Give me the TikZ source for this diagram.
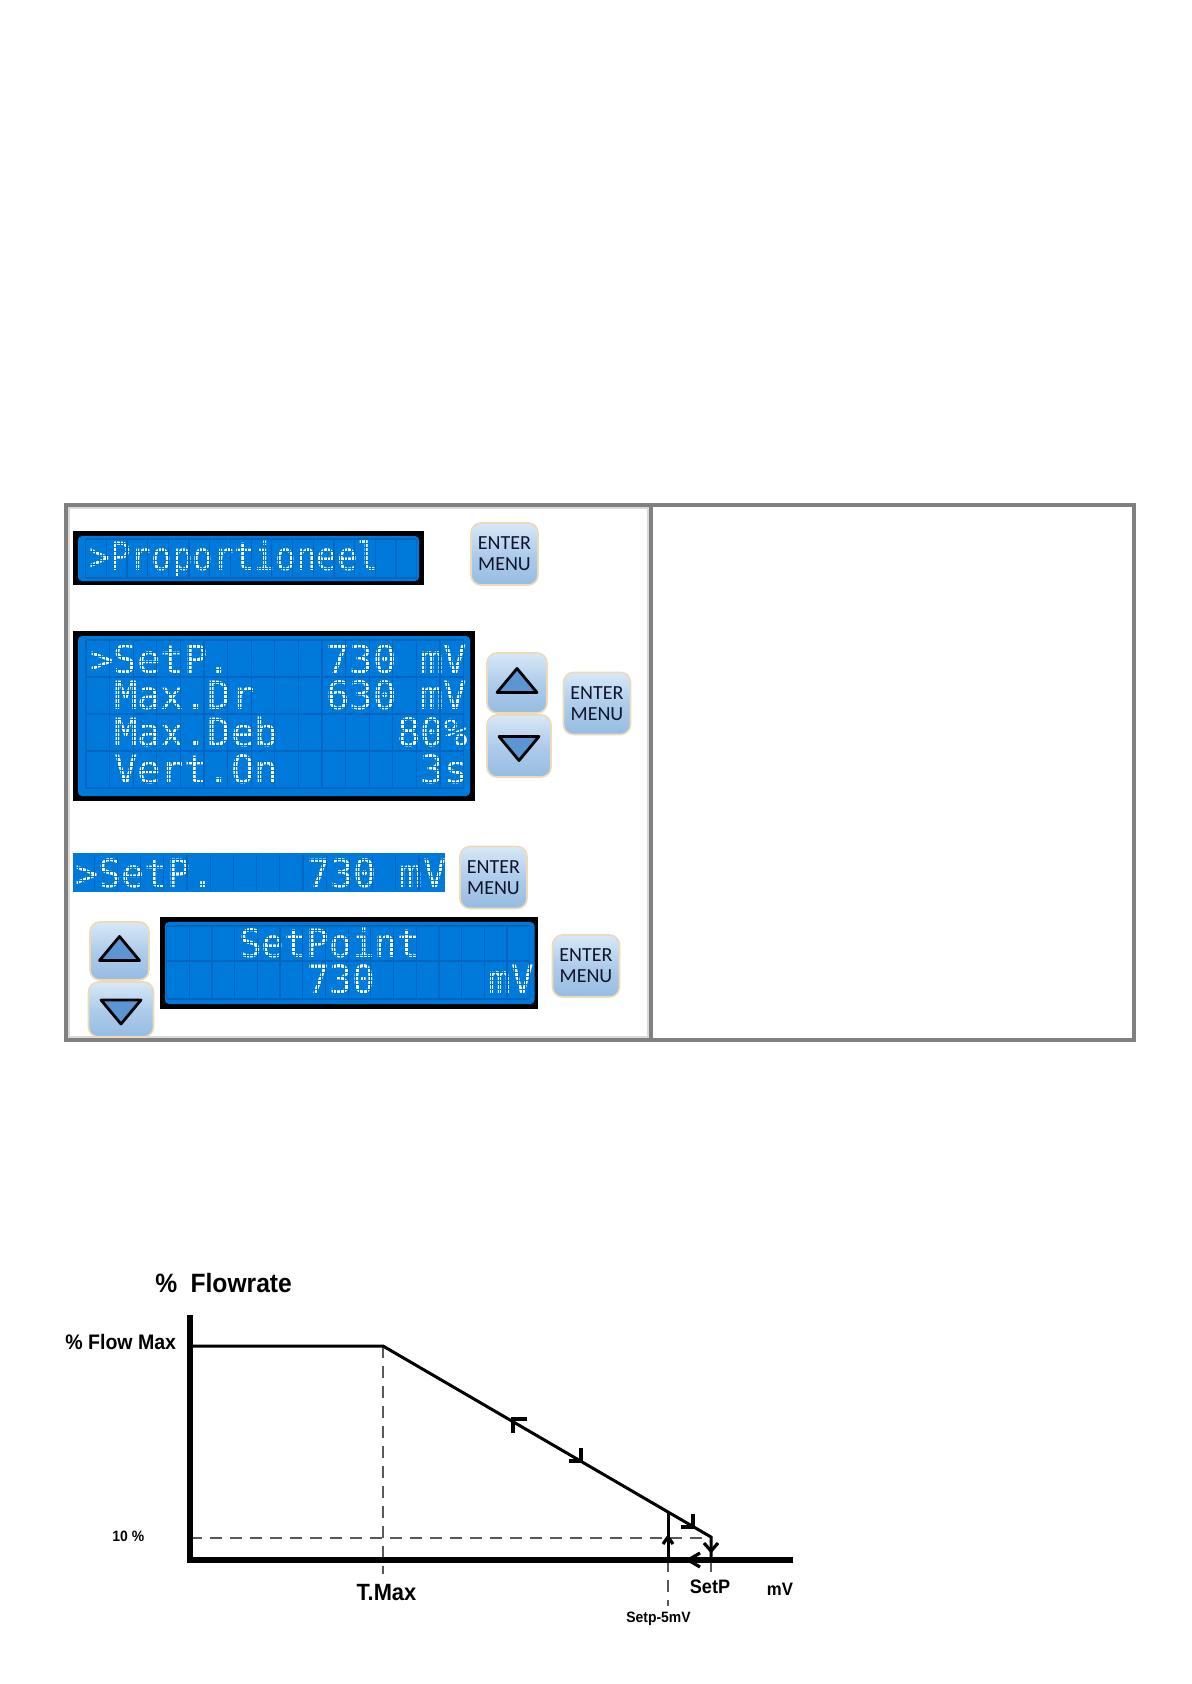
\documentclass[tikz,border=0pt]{standalone}
\usepackage{fontspec}
\setmainfont{Liberation Sans}
\newfontfamily\lcdfont{DejaVu Sans Mono}
\newfontfamily\lcdnarrow[FakeStretch=0.88]{DejaVu Sans Mono}
\newfontfamily\lcdmid[FakeStretch=0.965]{DejaVu Sans Mono}
\newfontfamily\lcdthree[FakeStretch=0.985]{DejaVu Sans Mono}
\newfontfamily\keyfont{Carlito}
\newfontfamily\chartfont[FakeStretch=0.93]{Liberation Sans}
\usetikzlibrary{positioning,calc}

\definecolor{lcdblue}{RGB}{0,122,218}
\definecolor{lcdgrid}{RGB}{0,102,194}
\definecolor{keytop}{RGB}{216,232,247}
\definecolor{keymid}{RGB}{174,204,235}
\definecolor{keybot}{RGB}{150,188,226}
\definecolor{keyedge}{RGB}{236,218,184}
\definecolor{keyink}{RGB}{15,20,45}
\definecolor{trifill}{RGB}{92,150,210}
\definecolor{framegray}{RGB}{128,128,128}

\begin{document}
\begin{tikzpicture}[x=0.5pt, y=-0.5pt,
    panelframe/.style={draw=framegray, line width=2pt},
    bezel/.style={fill=black},
    glass/.style={fill=lcdblue, rounded corners=2pt},
    lcdcell/.style={draw=lcdgrid, line width=0.6pt},
    dotmask/.style={draw=lcdblue, line width=0.45pt},
    lcdtxt/.style={anchor=base west, inner sep=0pt, text=white},
    keycap/.style={draw=keyedge, line width=0.8pt, rounded corners=5pt, top color=keytop, bottom color=keybot, middle color=keymid, inner sep=0pt},
    enterkey/.style={keycap, minimum width=33.5pt, minimum height=31pt, align=center, text=keyink, font=\keyfont\fontsize{10}{10.5}\selectfont},
    tri/.style={draw=black, fill=trifill, line width=1.4pt, line join=round},
    axisline/.style={line width=3pt},
    flowline/.style={line width=1.5pt},
    guide/.style={line width=0.6pt, gray!70!black, dash pattern=on 6pt off 4pt},
    barb/.style={line width=1.6pt},
    lbl/.style={font=\chartfont\bfseries\fontsize{#1}{#1}\selectfont, inner sep=0pt}]
  \useasboundingbox (0,0) rectangle (1191,1684);
  \fill[white] (0,0) rectangle (1191,1684);

  % menu panel
  \draw[panelframe] (66,505) rectangle (1134,1040);
  \draw[panelframe] (651,505) -- (651,1040);
  \draw[gray!30, line width=0.6pt] (69,508) rectangle (648,1037);

  % screen 1
  \fill[bezel] (73,531) rectangle (424,585);
  \fill[glass] (78,536) rectangle (419,581);
  \node[lcdtxt, font=\lcdnarrow\fontsize{19.5}{19.5}\selectfont] (s1) at (89,570) {>Proportioneel};
  \foreach \k in {0,...,96} \draw[dotmask] (85.5+3.45*\k,539) -- ++(0,39);
  \foreach \k in {0,...,9} \draw[dotmask] (85.5,539+4.2*\k) -- ++(331.2,0);
  \foreach \k in {0,...,16} \draw[lcdcell] (85.5+20.7*\k,539) -- (85.5+20.7*\k,578);
  \draw[lcdcell] (85.5,539) -- (416.7,539) (85.5,578) -- (416.7,578);
  \node[enterkey] (ok1) at (504.5,554) {ENTER\\MENU};

  % screen 2
  \fill[bezel] (73,631) rectangle (475,801);
  \fill[glass] (78,636) rectangle (470,796);
  \foreach \c/\r/\t [count=\i] in {0/0/>SetP., 10/0/730 mV, 1/1/Max.Dr, 10/1/630 mV,
      1/2/Max.Deb, 13/2/80\%, 1/3/Vert.On, 14/3/3s}
    \node[lcdtxt, font=\lcdfont\fontsize{19.5}{19.5}\selectfont] (m\i) at (90+23.6*\c,673+36.8*\r) {\t};
  \foreach \k in {0,...,96} \draw[dotmask] (86+3.9333*\k,640) -- ++(0,148);
  \foreach \k in {0,...,35} \draw[dotmask] (86,640+4.2*\k) -- ++(377.6,0);
  \foreach \k in {0,...,16} \draw[lcdcell] (86+23.6*\k,640) -- (86+23.6*\k,788);
  \foreach \r in {0,...,4} \draw[lcdcell] (86,640+37*\r) -- (463.6,640+37*\r);
  \node[keycap, minimum width=30pt, minimum height=30pt] (up1) at (517,683) {};
  \node[keycap, minimum width=32pt, minimum height=31pt] (dn1) at (519,746) {};
  \node[enterkey] (ok2) at (597,703.5) {ENTER\\MENU};

  % screen 3
  \fill[lcdblue] (73,853) rectangle (445,892);
  \node[lcdtxt, font=\lcdthree\fontsize{19.5}{19.5}\selectfont] (s3a) at (75,887) {>SetP.};
  \node[lcdtxt, font=\lcdthree\fontsize{19.5}{19.5}\selectfont] (s3b) at (75+23.2*10,887) {730 mV};
  \foreach \k in {1,...,96} \draw[dotmask] (71+3.8667*\k,855) -- ++(0,35);
  \foreach \k in {0,...,8} \draw[dotmask] (73,855+4.2*\k) -- ++(372,0);
  \foreach \k in {1,...,15} \draw[lcdcell] (71+23.2*\k,855) -- (71+23.2*\k,890);
  \node[enterkey] (ok3) at (493.5,877.5) {ENTER\\MENU};

  % screen 4
  \fill[bezel] (160,917) rectangle (538,1009);
  \fill[glass] (165,922) rectangle (534.5,1004);
  \foreach \c/\r/\t [count=\i] in {3/0/SetPoint, 6/1/730, 14/1/mV}
    \node[lcdtxt, font=\lcdmid\fontsize{19.5}{19.5}\selectfont] (p\i) at (170.5+22.7*\c,957+36*\r) {\t};
  \foreach \k in {0,...,96} \draw[dotmask] (166.5+3.7833*\k,926) -- ++(0,73);
  \foreach \k in {0,...,17} \draw[dotmask] (166.5,926+4.2*\k) -- ++(363.2,0);
  \foreach \k in {0,...,16} \draw[lcdcell] (166.5+22.7*\k,926) -- (166.5+22.7*\k,999);
  \foreach \y in {926,961,999} \draw[lcdcell] (166.5,\y) -- (529.7,\y);
  \node[keycap, minimum width=29.5pt, minimum height=29pt] (up2) at (119.5,951) {};
  \node[keycap, minimum width=32.5pt, minimum height=27.5pt] (dn2) at (121,1009.5) {};
  \node[enterkey] (ok4) at (586,966) {ENTER\\MENU};

  % arrow keys
  \foreach \b/\s in {up1/1, up2/1, dn1/-1, dn2/-1}
    \draw[tri] ($(\b)+(0,-14.5*\s)$) -- ($(\b)+(20,9.5*\s)$) -- ($(\b)+(-20,9.5*\s)$) -- cycle;

  % flow curve
  \coordinate (O) at (190,1560);
  \coordinate (ytop) at (190,1315);
  \coordinate (xend) at (793,1560);
  \coordinate (fmax) at (190,1346);
  \coordinate (knee) at (383,1346);
  \coordinate (low) at (711,1537);
  \coordinate (sp) at (711,1560);
  \coordinate (sm) at (668,1560);
  \coordinate (smtop) at (668,1512);
  \coordinate (ten) at (190,1538);
  \draw[guide] (knee) -- ($(knee |- O)+(0,14)$);
  \draw[guide] (ten) -- (ten -| low);
  \draw[guide] (sm) -- ++(0,46);
  \draw[guide] (sp) -- ++(0,13);
  \draw[axisline] (ytop) -- (O) -- (xend);
  \draw[flowline] (fmax) -- (knee) -- (low) -- (sp);
  \draw[flowline] (sm) -- (smtop);
  \draw[barb] (527,1419) -- (513,1419) -- (513,1433);
  \foreach \x/\y in {581/1461, 693/1527} \draw[barb] (\x-12,\y) -- (\x,\y) -- (\x,\y-13);
  \draw[barb] (704,1543) -- (711,1551) -- (718,1543);
  \draw[barb] (700,1553) -- (688,1560) -- (700,1567);
  \draw[barb] (663,1544) -- (668,1537) -- (673,1544);

  \node[lbl=13.25, anchor=base west] (ttl) at (155,1292) {\%\enspace Flowrate};
  \node[lbl=10.5, anchor=base west] (fmaxl) at (65,1349) {\% Flow Max};
  \node[lbl=7.5, anchor=base west] (tenl) at (112,1541) {10 \%};
  \node[lbl=11.75, anchor=base] (tmaxl) at (386.5,1600) {T.Max};
  \node[lbl=9.75, anchor=base] (setpl) at (710,1593) {SetP};
  \node[lbl=9, anchor=base] (mvl) at (780,1595) {mV};
  \node[lbl=7.5, anchor=base] (spml) at (658.5,1622) {Setp-5mV};
\end{tikzpicture}
\end{document}
